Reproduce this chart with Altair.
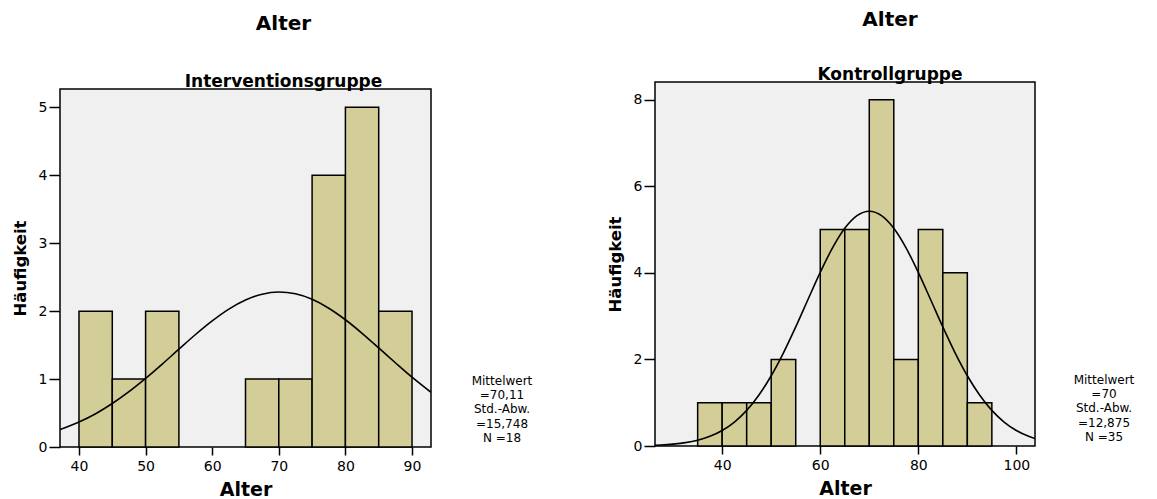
import altair as alt
import pandas as pd

FONT = "DejaVu Sans"
BAR_FILL = "#D3CE97"
BG = "#F0F0F0"

# ---- Interventionsgruppe ----
iv_bin_start = [40, 45, 50, 55, 60, 65, 70, 75, 80, 85]
iv_bin_end = [45, 50, 55, 60, 65, 70, 75, 80, 85, 90]
iv_counts = [2, 1, 2, 0, 0, 1, 1, 4, 5, 2]
iv_curve_x = [37.2, 40, 42.5, 45, 47.5, 50, 52.5, 55, 57.5, 60, 62.5, 65, 67.5, 70,
              72.5, 75, 77.5, 80, 82.5, 85, 87.5, 90, 92.8]
iv_curve_y = [0.257, 0.367, 0.490, 0.640, 0.814, 1.010, 1.221, 1.440, 1.656, 1.856,
              2.030, 2.164, 2.250, 2.281, 2.255, 2.174, 2.043, 1.873, 1.674, 1.459,
              1.240, 1.027, 0.808]
iv_stats = ["Mittelwert", "=70,11", "Std.-Abw.", "=15,748", "N =18"]
iv_xticks = [40, 50, 60, 70, 80, 90]
iv_yticks = [0, 1, 2, 3, 4, 5]
iv_xdom = [37.15, 92.85]
iv_ydom = [0, 5.27]

# ---- Kontrollgruppe ----
kg_bin_start = [35, 40, 45, 50, 55, 60, 65, 70, 75, 80, 85, 90]
kg_bin_end = [40, 45, 50, 55, 60, 65, 70, 75, 80, 85, 90, 95]
kg_counts = [1, 1, 1, 2, 0, 5, 5, 8, 2, 5, 4, 1]
kg_curve_x = [26.3, 27.5, 30, 32.5, 35, 37.5, 40, 42.5, 45, 47.5, 50, 52.5, 55, 57.5,
              60, 62.5, 65, 67.5, 70, 72.5, 75, 77.5, 80, 82.5, 85, 87.5, 90, 92.5,
              95, 97.5, 100, 102.5, 103.8]
kg_curve_y = [0.017, 0.023, 0.044, 0.078, 0.135, 0.224, 0.359, 0.554, 0.823, 1.178,
              1.623, 2.153, 2.751, 3.385, 4.011, 4.577, 5.029, 5.322, 5.423, 5.322,
              5.029, 4.577, 4.011, 3.385, 2.751, 2.153, 1.623, 1.178, 0.823, 0.554,
              0.359, 0.224, 0.173]
kg_stats = ["Mittelwert", "=70", "Std.-Abw.", "=12,875", "N =35"]
kg_xticks = [40, 60, 80, 100]
kg_yticks = [0, 2, 4, 6, 8]
kg_xdom = [26.3, 103.8]
kg_ydom = [0, 8.41]


def panel(bstart, bend, counts, cx, cy, stats, xticks, yticks, xdom, ydom,
          w, h, top_gap, subtitle, dx, sub_pad, t_offset, stats_dx, stats_y):
    bars = pd.DataFrame({"start": bstart, "end": bend, "count": counts})
    bars = bars[bars["count"] > 0]
    curve = pd.DataFrame({"x": cx, "y": cy})

    xscale = alt.Scale(domain=xdom, nice=False, zero=False)
    yscale = alt.Scale(domain=ydom, nice=False, zero=True, range=[h, top_gap])
    xaxis = alt.Axis(values=xticks, format="d", title="Alter", grid=False,
                     domain=False, tickSize=8, tickWidth=1.5, tickColor="black",
                     labelFont=FONT, labelFontSize=14, labelColor="black",
                     labelPadding=4, titlePadding=7, titleFont=FONT,
                     titleFontSize=19, titleFontWeight="bold",
                     titleColor="black")
    yaxis = alt.Axis(values=yticks, format="d", title="Häufigkeit", grid=False,
                     domain=False, tickSize=11, tickWidth=1.5,
                     tickColor="black", labelFont=FONT, labelFontSize=14,
                     labelColor="black", labelPadding=2, titlePadding=10,
                     titleFont=FONT, titleFontSize=16.5,
                     titleFontWeight="bold", titleColor="black")

    panel_bg = alt.Chart(pd.DataFrame({"t": [0]})).mark_rect(
        fill=BG, stroke="black", strokeWidth=1.5
    ).encode(
        x=alt.X(datum=xdom[0], type="quantitative", scale=xscale, axis=xaxis),
        x2=alt.datum(xdom[1]),
        y=alt.Y(datum=ydom[0], type="quantitative", scale=yscale, axis=yaxis),
        y2=alt.datum(ydom[1]),
    )
    rect = alt.Chart(bars).mark_rect(
        fill=BAR_FILL, stroke="black", strokeWidth=1.5
    ).encode(
        x=alt.X("start:Q", scale=xscale),
        x2="end:Q",
        y=alt.Y("count:Q", scale=yscale),
        y2=alt.datum(0),
    )
    line = alt.Chart(curve).mark_line(
        color="black", strokeWidth=1.6, interpolate="monotone", clip=True
    ).encode(
        x=alt.X("x:Q", scale=xscale),
        y=alt.Y("y:Q", scale=yscale),
    )
    txt = alt.Chart(pd.DataFrame({"t": [0]})).mark_text(
        text=stats, font=FONT, fontSize=12, lineHeight=14.2,
        align="center", baseline="alphabetic", color="black"
    ).encode(
        x=alt.value(w + stats_dx),
        y=alt.value(stats_y),
    )
    return alt.layer(panel_bg, rect, line, txt).properties(
        width=w, height=h,
        view=alt.ViewBackground(fill="white", fillOpacity=0, strokeOpacity=0),
        title=alt.TitleParams(
            text="Alter", subtitle=subtitle, font=FONT, fontSize=20,
            fontWeight="bold", color="black", subtitleFont=FONT,
            subtitleFontSize=17, subtitleFontWeight="bold",
            subtitleColor="black", anchor="middle", frame="group",
            dx=dx, offset=t_offset, subtitlePadding=sub_pad,
        ),
    )


left = panel(iv_bin_start, iv_bin_end, iv_counts, iv_curve_x, iv_curve_y,
             iv_stats, iv_xticks, iv_yticks, iv_xdom, iv_ydom,
             371, 365, 7, "Interventionsgruppe", 38, 40, -8, 71, 303)
right = panel(kg_bin_start, kg_bin_end, kg_counts, kg_curve_x, kg_curve_y,
              kg_stats, kg_xticks, kg_yticks, kg_xdom, kg_ydom,
              380, 364, 0, "Kontrollgruppe", 45, 37, -2, 69, 302)

chart = alt.hconcat(left, right, spacing=74).properties(
    padding={"left": 4, "top": 2, "right": 2, "bottom": 0}
).configure(background="white")

chart.save("out.html", embed_options={"renderer": "svg", "actions": False})
